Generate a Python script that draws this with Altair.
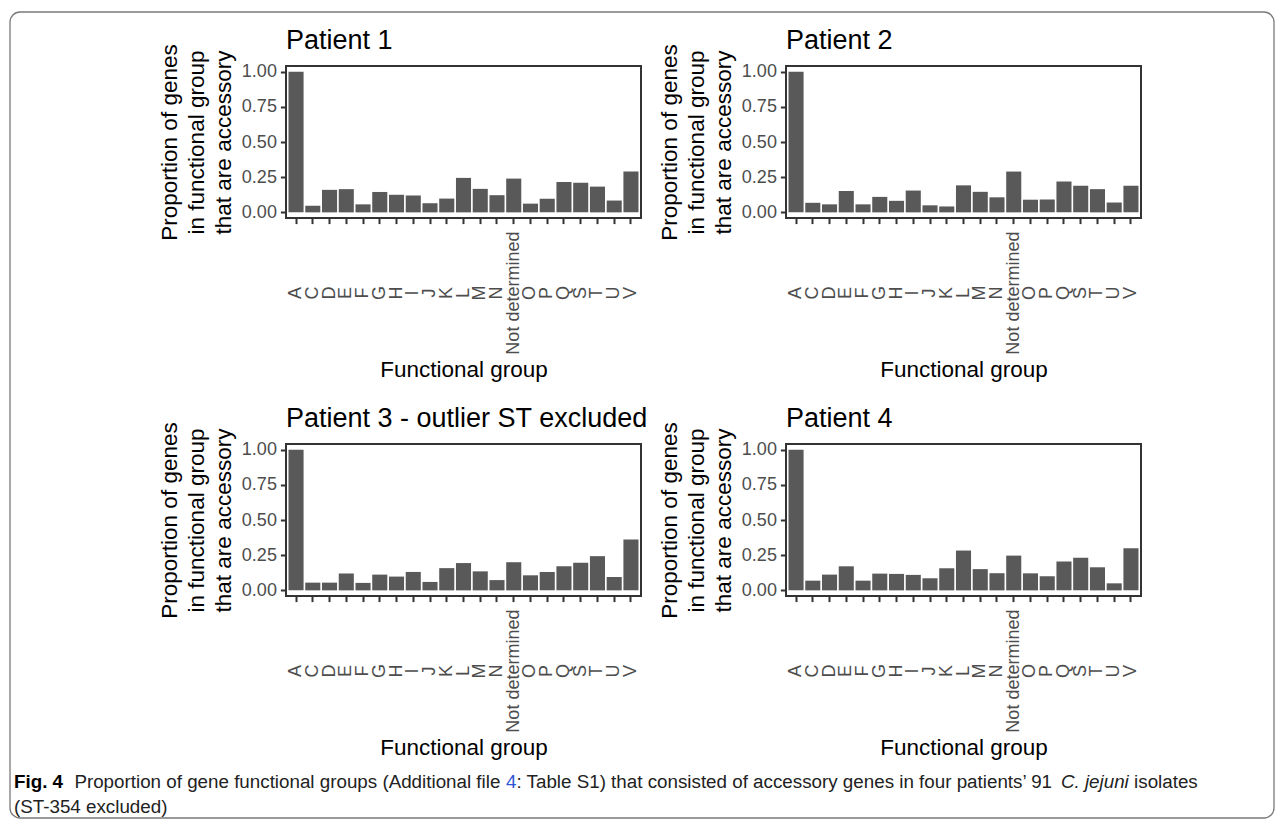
import altair as alt
import pandas as pd

# ---------------- data ----------------
categories = ["A", "C", "D", "E", "F", "G", "H", "I", "J", "K", "L", "M", "N",
              "Not determined", "O", "P", "Q", "S", "T", "U", "V"]
patient1 = [1.00, 0.047, 0.160, 0.165, 0.057, 0.145, 0.125, 0.120, 0.065, 0.098, 0.245,
            0.167, 0.122, 0.240, 0.062, 0.096, 0.215, 0.210, 0.183, 0.084, 0.290]
patient2 = [1.00, 0.068, 0.057, 0.152, 0.057, 0.110, 0.082, 0.155, 0.050, 0.042, 0.192,
            0.146, 0.107, 0.290, 0.090, 0.092, 0.220, 0.190, 0.165, 0.070, 0.190]
patient3 = [1.00, 0.055, 0.055, 0.120, 0.053, 0.112, 0.098, 0.131, 0.060, 0.158, 0.194,
            0.135, 0.073, 0.200, 0.107, 0.131, 0.172, 0.196, 0.243, 0.095, 0.362]
patient4 = [1.00, 0.069, 0.112, 0.171, 0.069, 0.119, 0.117, 0.110, 0.086, 0.157, 0.283,
            0.151, 0.122, 0.247, 0.121, 0.100, 0.205, 0.231, 0.164, 0.050, 0.300]
panel_titles = ["Patient 1", "Patient 2", "Patient 3 - outlier ST excluded", "Patient 4"]
y_ticks = [0, 0.25, 0.5, 0.75, 1.0]
y_title = ["Proportion of genes", "in functional group", "that are accessory"]
x_title = "Functional group"

caption_line1 = [
    ("Fig. 4", "bold", "normal", "black"),
    ("Proportion of gene functional groups (Additional file", "normal", "normal", "#222222"),
    ("4", "normal", "normal", "#2f55d4"),
    (": Table S1) that consisted of accessory genes in four patients’ 91", "normal", "normal", "#222222"),
    ("C. jejuni", "normal", "italic", "#222222"),
    ("isolates", "normal", "normal", "#222222"),
]
caption_line2 = "(ST-354 excluded)"

FONT = "Liberation Sans"
CAP_FONT = "Liberation Sans"
CAP_SIZE = 18.8

# approximate Arial / Liberation Sans advance widths (1/1000 em) for caption layout
_W = {' ': 278, '(': 333, ')': 333, '.': 278, ':': 278, '’': 222, '-': 333, "'": 191}
for d in "0123456789":
    _W[d] = 556
_up = dict(A=667, B=667, C=722, D=722, E=667, F=611, G=778, H=722, I=278, J=500, K=667,
           L=556, M=833, N=722, O=778, P=667, Q=778, R=722, S=667, T=611, U=722, V=667,
           W=944, X=667, Y=667, Z=611)
_lo = dict(a=556, b=556, c=500, d=556, e=556, f=278, g=556, h=556, i=222, j=222, k=500,
           l=222, m=833, n=556, o=556, p=556, q=556, r=333, s=500, t=278, u=556, v=500,
           w=722, x=500, y=500, z=500)
_W.update(_up)
_W.update(_lo)
_WB = dict(_W)
_WB.update({'i': 278, 'g': 611})


def text_w(s, size, bold=False):
    tab = _WB if bold else _W
    return sum(tab.get(c, 556) for c in s) * size / 1000.0


def panel(values, title, with_extras=False):
    df = pd.DataFrame({"group": categories, "prop": values})
    bars = alt.Chart(df).mark_bar(color="#595959").encode(
        x=alt.X("group:N", sort=categories, title=x_title,
                scale=alt.Scale(paddingInner=0.1, paddingOuter=0.15),
                axis=alt.Axis(labelAngle=270, labelAlign="center", labelBaseline="middle",
                              labelPadding=69, labelFontSize=18, labelColor="#4d4d4d",
                              labelOverlap=False, labelFlush=False, labelLimit=400,
                              tickSize=5.6, tickWidth=2, tickColor="#333333",
                              domain=False, grid=False,
                              titleFontSize=22.5, titleFontWeight="normal",
                              titleColor="black", titlePadding=4)),
        y=alt.Y("prop:Q", title=y_title,
                scale=alt.Scale(domain=[-0.04, 1.04], nice=False, zero=False),
                axis=alt.Axis(values=y_ticks, format=".2f", labelFontSize=18,
                              labelColor="#4d4d4d", labelPadding=4,
                              tickSize=5.6, tickWidth=2, tickColor="#333333",
                              domain=False, grid=False,
                              titleFontSize=22.5, titleFontWeight="normal",
                              titleColor="black", titlePadding=6, titleLineHeight=27)),
        y2=alt.datum(0),
    )
    tdf = pd.DataFrame({"t": [title]})
    ttl = alt.Chart(tdf).mark_text(align="left", baseline="alphabetic", fontSize=27,
                                   color="black").encode(
        x=alt.value(0), y=alt.value(-17), text="t:N")
    layers = [bars, ttl]
    if with_extras:
        fdf = pd.DataFrame({"k": [0]})
        frame = alt.Chart(fdf).mark_rect(fillOpacity=0, stroke="#7a7a7a", strokeWidth=1.3,
                                         cornerRadius=10).encode(
            x=alt.value(-276), x2=alt.value(988), y=alt.value(-54), y2=alt.value(752))
        layers.insert(0, frame)
        x = -272.0
        gaps = [0.6, 0.28, 0.0, 0.28, 0.28, 0.0]
        for (txt, weight, style, col), gap in zip(caption_line1, gaps):
            cdf = pd.DataFrame({"t": [txt]})
            layers.append(alt.Chart(cdf).mark_text(
                align="left", baseline="middle", font=CAP_FONT, fontSize=CAP_SIZE,
                fontWeight=weight, fontStyle=style, color=col).encode(
                x=alt.value(x), y=alt.value(716), text="t:N"))
            x += text_w(txt, CAP_SIZE, weight == "bold") + gap * CAP_SIZE
        cdf2 = pd.DataFrame({"t": [caption_line2]})
        layers.append(alt.Chart(cdf2).mark_text(
            align="left", baseline="middle", font=CAP_FONT, fontSize=CAP_SIZE,
            color="#222222").encode(x=alt.value(-272), y=alt.value(741), text="t:N"))
    return alt.layer(*layers).properties(width=355, height=152)


p1 = panel(patient1, panel_titles[0], with_extras=True)
p2 = panel(patient2, panel_titles[1])
p3 = panel(patient3, panel_titles[2])
p4 = panel(patient4, panel_titles[3])

chart = alt.concat(p1, p2, p3, p4, columns=2,
                   spacing={"row": 226, "column": 145}, bounds="flush").properties(
    padding={"top": 2, "left": 0, "right": 0, "bottom": 0}
).configure(font=FONT).configure_view(stroke="#333333", strokeWidth=2)

chart.save("out.html", embed_options={"renderer": "svg", "actions": False})
